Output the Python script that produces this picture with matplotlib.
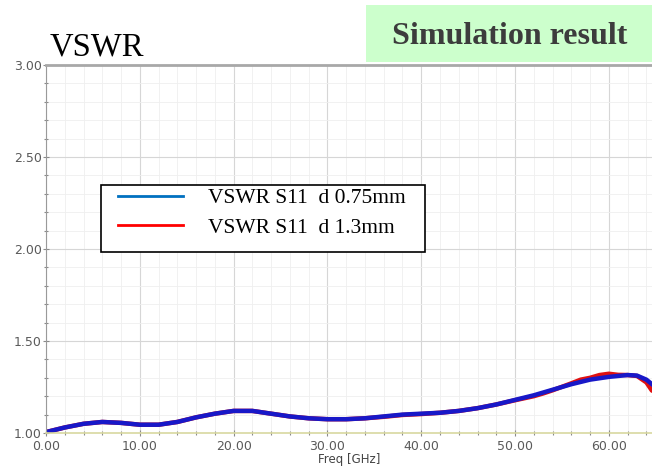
import matplotlib
matplotlib.use("Agg")
import matplotlib.pyplot as plt
from matplotlib.lines import Line2D
from matplotlib.patches import Rectangle
from matplotlib.ticker import MultipleLocator

# frequency in GHz, VSWR
freq = [0, 2, 4, 6, 8, 10, 12, 14, 16, 18, 20, 22, 24, 26, 28, 30, 32, 34, 36, 38,
        40, 42, 44, 46, 48, 50, 52, 54, 56, 58, 60, 62, 63, 64, 64.6]
vswr_075 = [1.005, 1.03, 1.05, 1.06, 1.055, 1.045, 1.045, 1.06, 1.085, 1.105, 1.12, 1.12,
            1.105, 1.09, 1.08, 1.075, 1.075, 1.08, 1.09, 1.10, 1.105, 1.11, 1.12, 1.135,
            1.155, 1.18, 1.205, 1.235, 1.265, 1.29, 1.305, 1.315, 1.312, 1.29, 1.265]

freq_13 = [0, 2, 4, 6, 8, 10, 12, 14, 16, 18, 20, 22, 24, 26, 28, 30, 32, 34, 36, 38,
           40, 42, 44, 46, 48, 50, 52, 53, 54, 56, 57, 58, 59, 60, 61, 62, 63, 64, 64.6]
vswr_13 = [1.005, 1.03, 1.05, 1.06, 1.055, 1.045, 1.045, 1.06, 1.085, 1.105, 1.12, 1.12,
           1.105, 1.09, 1.08, 1.075, 1.075, 1.08, 1.088, 1.098, 1.103, 1.11, 1.12, 1.135,
           1.155, 1.178, 1.20, 1.215, 1.232, 1.27, 1.29, 1.30, 1.315, 1.322, 1.316,
           1.315, 1.31, 1.275, 1.23]

labels = ["VSWR S11  d 0.75mm", "VSWR S11  d 1.3mm"]

fig = plt.figure(figsize=(6.52, 4.67), dpi=100)
ax = fig.add_axes([46/652, 34/467, 606/652, 368/467])

ax.plot(freq_13, vswr_13, color="#e01010", lw=3.2, solid_capstyle="round")
ax.plot(freq, vswr_075, color="#1818c8", lw=3.2)

ax.set_xlim(0, 64.6)
ax.set_ylim(1.0, 3.0)
ax.xaxis.set_major_locator(MultipleLocator(10))
ax.xaxis.set_minor_locator(MultipleLocator(2))
ax.yaxis.set_major_locator(MultipleLocator(0.5))
ax.yaxis.set_minor_locator(MultipleLocator(0.1))
ax.xaxis.set_major_formatter(lambda v, p: f"{v:.2f}")
ax.yaxis.set_major_formatter(lambda v, p: f"{v:.2f}")
ax.grid(which="major", color="#d6d6d6", lw=0.8)
ax.grid(which="minor", color="#efefef", lw=0.6)
ax.set_axisbelow(True)

ax.tick_params(which="both", direction="inout", colors="#8a8a8a", labelcolor="#5a5a5a",
               labelsize=9, length=4, width=0.8)
ax.tick_params(which="minor", length=3)
ax.tick_params(axis="x", pad=3)
ax.tick_params(axis="y", pad=1)

ax.spines["right"].set_visible(False)
ax.spines["top"].set_color("#a8a8a8")
ax.spines["top"].set_linewidth(2)
ax.spines["left"].set_color("#9a9a9a")
ax.spines["bottom"].set_color("#d8d8a0")
ax.spines["bottom"].set_linewidth(1.2)

ax.set_xlabel("Freq [GHz]", fontsize=8.5, color="#444444", labelpad=0)

# legend without frame, box drawn separately behind it
handles = [Line2D([], [], color="#0070c0", lw=2),
           Line2D([], [], color="#ff0000", lw=2)]
leg = ax.legend(handles, labels, loc="upper left", bbox_to_anchor=(72/606, 245/368),
                borderaxespad=0, prop={"family": "Liberation Serif", "size": 15.5},
                frameon=False, handlelength=3.0, handletextpad=1.2,
                labelspacing=0.45, borderpad=0)
leg.set_zorder(6)
ax.add_patch(Rectangle((101/652, 1 - 252/467), 324/652, 67/467,
                       transform=fig.transFigure, facecolor="white",
                       edgecolor="black", lw=1.2, zorder=5, clip_on=False))

fig.text(50/652, 1 - 55/467, "VSWR", family="Liberation Serif", fontsize=23.5,
         color="black", va="baseline")

fig.patches.append(Rectangle((366/652, 1 - 62/467), 286/652, 57/467,
                             transform=fig.transFigure, facecolor="#ccffcc",
                             edgecolor="none"))
fig.text(510/652, 1 - 36/467, "Simulation result", family="Liberation Serif",
         fontweight="bold", fontsize=23, color="#3c3c3c", ha="center", va="center")

fig.savefig("out.png", dpi=100)
